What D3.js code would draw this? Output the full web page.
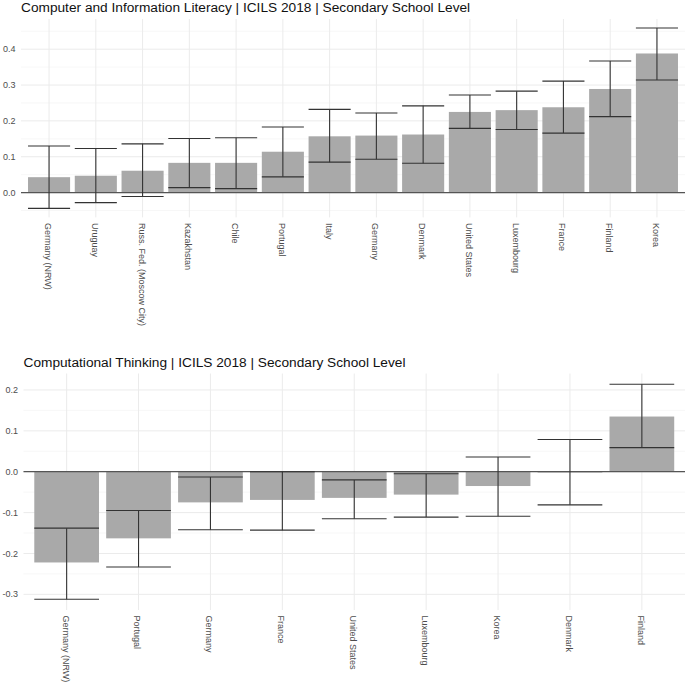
<!DOCTYPE html>
<html>
<head>
<meta charset="utf-8">
<script src="https://cdn.jsdelivr.net/npm/d3@7"></script>
<style>
  body { margin: 0; background: #fff; }
  svg { display: block; font-family: "Liberation Sans", Arial, sans-serif; }
  .title { font-size: 13.7px; fill: #111; }
  .tick-y, .tick-x { font-size: 9px; fill: #4d4d4d; }
</style>
</head>
<body>
<svg id="chart" width="685" height="686"></svg>
<script>
// Computer and Information Literacy
const cilCountries = ["Germany (NRW)", "Uruguay", "Russ. Fed. (Moscow City)", "Kazakhstan", "Chile", "Portugal", "Italy", "Germany", "Denmark", "United States", "Luxembourg", "France", "Finland", "Korea"]
const cilMean  = [0.043, 0.047, 0.061, 0.083, 0.083, 0.114, 0.157, 0.159, 0.162, 0.225, 0.230, 0.238, 0.289, 0.388]
const cilLower = [-0.044, -0.028, -0.011, 0.014, 0.011, 0.044, 0.085, 0.093, 0.082, 0.179, 0.176, 0.166, 0.212, 0.314]
const cilUpper = [0.130, 0.123, 0.136, 0.151, 0.153, 0.183, 0.232, 0.222, 0.242, 0.272, 0.283, 0.311, 0.367, 0.459]

// Computational Thinking
const ctCountries = ["Germany (NRW)", "Portugal", "Germany", "France", "United States", "Luxembourg", "Korea", "Denmark", "Finland"]
const ctMean  = [-0.222, -0.163, -0.075, -0.069, -0.064, -0.056, -0.035, -0.002, 0.135]
const ctLower = [-0.312, -0.233, -0.142, -0.143, -0.115, -0.111, -0.109, -0.081, 0.059]
const ctUpper = [-0.138, -0.095, -0.013, 0.000, -0.020, -0.005, 0.036, 0.079, 0.214]

const cilTitle = "Computer and Information Literacy | ICILS 2018 | Secondary School Level"
const ctTitle = "Computational Thinking | ICILS 2018 | Secondary School Level"

const svg = d3.select("#chart")
const fmt = d3.formatLocale({decimal: ".", thousands: ",", grouping: [3], currency: ["", ""], minus: "-"}).format(".1f")

function drawPanel(opts) {
	const {countries, mean, lower, upper, title, left, right, top, bottom, titleY} = opts
	const rows = countries.map((c, i) => ({country: c, mean: mean[i], lower: lower[i], upper: upper[i]}))

	// ggplot style 5% expansion of the data range
	const lo = d3.min(lower.concat(mean, [0]))
	const hi = d3.max(upper.concat(mean, [0]))
	const pad = (hi - lo) * 0.05

	const x = d3.scaleBand()
		.domain(countries)
		.range([left, right])
		.paddingInner(0.1)
		.paddingOuter(0.15)

	const y = d3.scaleLinear()
		.domain([lo - pad, hi + pad])
		.range([bottom, top])

	const g = svg.append("g")

	g.append("text")
		.attr("class", "title")
		.attr("x", left)
		.attr("y", titleY)
		.text(title)

	const major = y.ticks(5)
	const step = major[1] - major[0]
	const minor = d3.range(major[0] - step / 2, major[major.length - 1] + step, step)
		.filter(v => v >= y.domain()[0] && v <= y.domain()[1])

	g.selectAll(".minor").data(minor).join("line")
		.attr("x1", left).attr("x2", right)
		.attr("y1", d => y(d)).attr("y2", d => y(d))
		.attr("stroke", "#f2f2f2").attr("stroke-width", 0.6)

	g.selectAll(".major").data(major).join("line")
		.attr("x1", left).attr("x2", right)
		.attr("y1", d => y(d)).attr("y2", d => y(d))
		.attr("stroke", "#ebebeb").attr("stroke-width", 1)

	g.selectAll(".vgrid").data(countries).join("line")
		.attr("x1", d => x(d) + x.bandwidth() / 2).attr("x2", d => x(d) + x.bandwidth() / 2)
		.attr("y1", top).attr("y2", bottom)
		.attr("stroke", "#ebebeb").attr("stroke-width", 1)

	g.selectAll(".ylab").data(major).join("text")
		.attr("class", "tick-y")
		.attr("x", left - 5.5)
		.attr("y", d => y(d))
		.attr("dy", "0.35em")
		.attr("text-anchor", "end")
		.text(d => fmt(d))

	g.selectAll(".bar").data(rows).join("rect")
		.attr("x", d => x(d.country))
		.attr("width", x.bandwidth())
		.attr("y", d => y(Math.max(0, d.mean)))
		.attr("height", d => Math.abs(y(d.mean) - y(0)))
		.attr("fill", "#a9a9a9")

	g.append("line")
		.attr("x1", left).attr("x2", right)
		.attr("y1", y(0)).attr("y2", y(0))
		.attr("stroke", "#555").attr("stroke-width", 1.3)

	const err = g.selectAll(".err").data(rows).join("g")
		.attr("stroke", "#333").attr("stroke-width", 1.1)
	err.append("line")
		.attr("x1", d => x(d.country) + x.bandwidth() / 2).attr("x2", d => x(d.country) + x.bandwidth() / 2)
		.attr("y1", d => y(d.lower)).attr("y2", d => y(d.upper))
	err.append("line")
		.attr("x1", d => x(d.country)).attr("x2", d => x(d.country) + x.bandwidth())
		.attr("y1", d => y(d.lower)).attr("y2", d => y(d.lower))
	err.append("line")
		.attr("x1", d => x(d.country)).attr("x2", d => x(d.country) + x.bandwidth())
		.attr("y1", d => y(d.upper)).attr("y2", d => y(d.upper))

	g.selectAll(".xlab").data(countries).join("text")
		.attr("class", "tick-x")
		.attr("transform", d => "translate(" + (x(d) + x.bandwidth() / 2) + "," + (bottom + 5.5) + ") rotate(90)")
		.attr("dy", "0.45em")
		.attr("text-anchor", "start")
		.text(d => d)
}

drawPanel({countries: cilCountries, mean: cilMean, lower: cilLower, upper: cilUpper, title: cilTitle,
	left: 21, right: 685, top: 19, bottom: 217.4, titleY: 12})

drawPanel({countries: ctCountries, mean: ctMean, lower: ctLower, upper: ctUpper, title: ctTitle,
	left: 23.5, right: 685, top: 373.5, bottom: 610, titleY: 367})
</script>
</body>
</html>
